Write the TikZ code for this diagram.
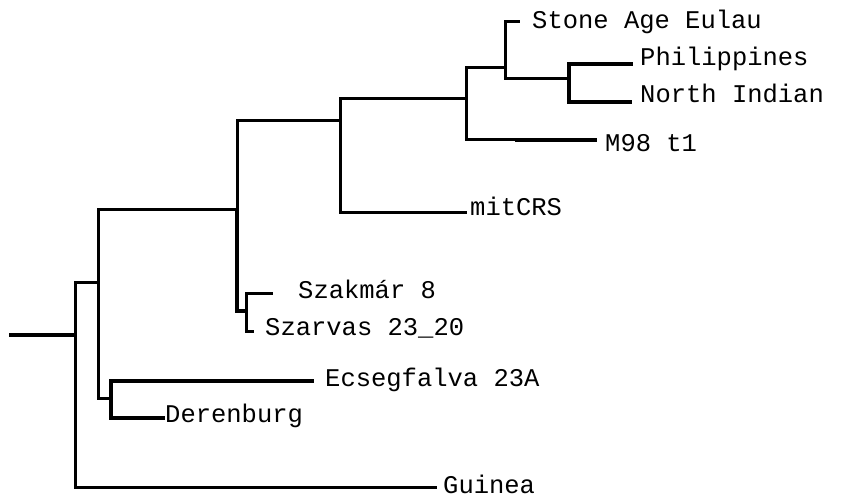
\documentclass[tikz,border=0pt]{standalone}
\usepackage{fontspec}
\setmonofont{Liberation Mono}
\begin{document}
\begin{tikzpicture}[x=1pt,y=-1pt,
  br/.style={line width=3.0pt},
  brthick/.style={line width=3.3pt},
  lab/.style={anchor=base west,inner sep=0pt,font=\ttfamily\fontsize{25.5}{30}\selectfont}]
\useasboundingbox (0,0) rectangle (846,497);
% internal nodes
\coordinate (root0) at (9,335);
\coordinate (R) at (75,335);
\coordinate (A) at (98,282);
\coordinate (B) at (237,210);
\coordinate (C) at (340,121);
\coordinate (D) at (466,99);
\coordinate (E) at (505,68);
\coordinate (F) at (569,79);
\coordinate (G) at (246,311);
\coordinate (H) at (111,398);
% leaf ends
\coordinate (lGuinea) at (437,487);
\coordinate (lEcseg) at (314,381);
\coordinate (lDeren) at (165,418);
\coordinate (lSzak) at (273,293);
\coordinate (lSzarv) at (254,331);
\coordinate (lMit) at (467,213);
\coordinate (lM98) at (597,140);
\coordinate (mM98) at (515,140);
\coordinate (lStone) at (520,22);
\coordinate (lPhil) at (633,64);
\coordinate (lNI) at (632,102);
% branches
\draw[brthick] (root0) -- (R);
\draw[br] (R) |- (A);
\draw[br] (R) |- (lGuinea);
\draw[br] (A) |- (B);
\draw[br] (A) |- (H);
\draw[br] (B) |- (C);
\draw[brthick] (B) |- (G);
\draw[br] (C) |- (D);
\draw[br] (C) |- (lMit);
\draw[br] (D) |- (E);
\draw[br] (D) |- (lM98);
\draw[brthick] (mM98) -- (lM98);
\draw[br] (E) |- (lStone);
\draw[br] (E) |- (F);
\draw[brthick] (F) |- (lPhil);
\draw[brthick] (F) |- (lNI);
\draw[br] (G) |- (lSzak);
\draw[br] (G) |- (lSzarv);
\draw[brthick] (H) |- (lEcseg);
\draw[brthick] (H) |- (lDeren);
% labels
\node[lab] (tStone) at (532,29) {Stone Age Eulau};
\node[lab] (tPhil) at (640,66) {Philippines};
\node[lab] (tNI) at (640,103) {North Indian};
\node[lab] (tM98) at (605,152) {M98 t1};
\node[lab] (tMit) at (470,216) {mitCRS};
\node[lab] (tSzak) at (298,298) {Szakmár 8};
\node[lab] (tSzarv) at (265,335) {Szarvas 23\_20};
\node[lab] (tEcseg) at (325,386) {Ecsegfalva 23A};
\node[lab] (tDeren) at (165,422) {Derenburg};
\node[lab] (tGuinea) at (443,493) {Guinea};
\end{tikzpicture}
\end{document}
